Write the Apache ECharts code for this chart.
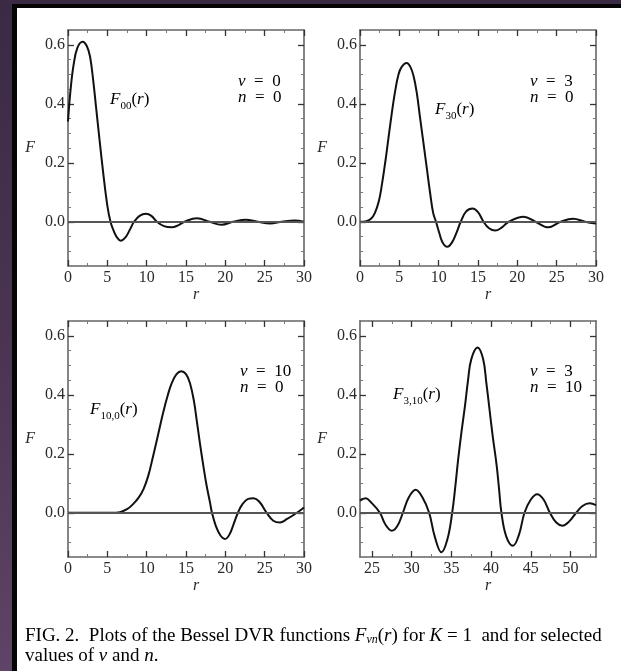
<!DOCTYPE html>
<html>
<head>
<meta charset="utf-8">
<script src="https://cdn.jsdelivr.net/npm/echarts@6/dist/echarts.min.js"></script>
<style>
html, body { margin: 0; padding: 0; background: #3a2a44; }
#page { position: relative; width: 621px; height: 671px; overflow: hidden; }
#leftband { position: absolute; left: 0; top: 0; width: 12px; height: 671px;
  background: linear-gradient(#3a2a44, #4a3452 50%, #5e4466); }
#border { position: absolute; left: 12px; top: 4px; width: 609px; height: 667px; background: #050505; }
#paper { position: absolute; left: 17px; top: 8px; width: 604px; height: 663px; background: #fff; }
#main { position: absolute; left: 0; top: 0; width: 621px; height: 671px; }
</style>
</head>
<body>
<div id="page">
  <div id="leftband"></div>
  <div id="border"></div>
  <div id="paper"></div>
  <div id="main"></div>
</div>
<script>
// F00(r)  nu=0 n=0
var r00 = [0, 0.3, 0.7, 1.2, 1.86, 2.4, 2.8, 3.2, 3.6, 4.0, 4.5, 5.0, 5.4, 5.8, 6.2, 6.7, 7.3, 7.9, 8.4, 9.1, 9.9, 10.6, 11.3, 12.2, 13.2, 14.0, 14.8, 16.4, 18.0, 19.5, 21.0, 22.6, 24.1, 25.7, 27.2, 28.8, 30];
var f00 = [0.34, 0.44, 0.53, 0.59, 0.61, 0.595, 0.56, 0.48, 0.38, 0.28, 0.16, 0.055, 0.0, -0.03, -0.052, -0.064, -0.053, -0.025, 0.0, 0.02, 0.027, 0.02, 0.0, -0.015, -0.019, -0.012, 0.0, 0.012, 0.0, -0.01, 0.0, 0.007, 0.0, -0.006, 0.0, 0.004, 0.0];

// F30(r)  nu=3 n=0
var r30 = [0, 0.8, 1.4, 1.9, 2.4, 2.75, 3.2, 3.6, 4.0, 4.45, 4.9, 5.3, 5.93, 6.4, 6.8, 7.2, 7.6, 8.0, 8.5, 8.9, 9.3, 9.66, 10.1, 10.5, 11.1, 11.7, 12.3, 12.8, 13.5, 14.3, 15.0, 15.7, 16.4, 17.2, 18.0, 18.9, 20.8, 22.3, 23.9, 25.5, 27.1, 28.6, 30];
var f30 = [0, 0.002, 0.01, 0.03, 0.07, 0.12, 0.2, 0.28, 0.36, 0.44, 0.5, 0.525, 0.538, 0.525, 0.495, 0.44, 0.36, 0.28, 0.18, 0.1, 0.03, 0.0, -0.04, -0.07, -0.085, -0.07, -0.035, 0.0, 0.035, 0.045, 0.033, 0.0, -0.022, -0.03, -0.02, 0.0, 0.017, 0.0, -0.019, 0.0, 0.01, 0.0, -0.006];

// F10,0(r)  nu=10 n=0
var r100 = [0, 5.5, 6.6, 7.5, 8.3, 9.0, 9.6, 10.2, 10.8, 11.5, 12.1, 12.7, 13.2, 13.8, 14.4, 15.0, 15.5, 16.0, 16.4, 16.8, 17.2, 17.6, 18.05, 18.3, 18.8, 19.4, 19.95, 20.5, 21.1, 21.6, 22.2, 22.9, 23.6, 24.3, 25.25, 26.1, 26.95, 27.8, 29.1, 30];
var f100 = [0, 0, 0.002, 0.012, 0.03, 0.052, 0.08, 0.125, 0.19, 0.27, 0.34, 0.4, 0.44, 0.47, 0.48, 0.47, 0.44, 0.38, 0.306, 0.23, 0.16, 0.095, 0.035, 0.0, -0.045, -0.078, -0.089, -0.075, -0.035, 0.0, 0.03, 0.047, 0.049, 0.038, 0.0, -0.027, -0.033, -0.022, 0.0, 0.018];

// F3,10(r)  nu=3 n=10
var r310 = [23.5, 24.2, 24.9, 26.0, 26.7, 27.5, 28.2, 28.9, 29.6, 30.5, 31.3, 32.2, 32.9, 33.75, 34.5, 35.1, 35.5, 35.85, 36.3, 36.7, 37.1, 37.5, 38.3, 39.0, 39.4, 39.8, 40.2, 40.7, 41.0, 41.3, 41.9, 42.75, 43.5, 44.2, 45.0, 45.8, 46.6, 47.4, 48.2, 49.0, 49.8, 50.7, 51.5, 52.4, 53.2];
var f310 = [0.041, 0.049, 0.035, 0.0, -0.04, -0.061, -0.045, 0.0, 0.05, 0.078, 0.055, 0.0, -0.08, -0.134, -0.09, 0.0, 0.09, 0.18, 0.28, 0.36, 0.45, 0.52, 0.56, 0.52, 0.44, 0.35, 0.26, 0.16, 0.08, 0.0, -0.08, -0.112, -0.075, 0.0, 0.045, 0.063, 0.045, 0.0, -0.033, -0.044, -0.03, 0.0, 0.023, 0.032, 0.026];

var xMajorA = [0, 5, 10, 15, 20, 25, 30];
var xMinorA = [2.5, 7.5, 12.5, 17.5, 22.5, 27.5];
var xMajorB = [25, 30, 35, 40, 45, 50];
var xMinorB = [27.5, 32.5, 37.5, 42.5, 47.5, 52.5];
var yMajor = [0, 0.2, 0.4, 0.6];
var yMinor = [-0.1, -0.05, 0.05, 0.1, 0.15, 0.25, 0.3, 0.35, 0.45, 0.5, 0.55];

var panels = [
    {r: r00, f: f00, xmin: 0, xmax: 30, xMaj: xMajorA, xMin: xMinorA, left: 68, top: 30},
    {r: r30, f: f30, xmin: 0, xmax: 30, xMaj: xMajorA, xMin: xMinorA, left: 360, top: 30},
    {r: r100, f: f100, xmin: 0, xmax: 30, xMaj: xMajorA, xMin: xMinorA, left: 68, top: 321},
    {r: r310, f: f310, xmin: 23.5, xmax: 53.2, xMaj: xMajorB, xMin: xMinorB, left: 360, top: 321}
];

var SERIF = '"Liberation Serif", "DejaVu Serif", serif';
var frameColor = '#666';
var tickColor = '#333';
var labelColor = '#2a2a2a';

var grids = [], xAxes = [], yAxes = [], series = [];

panels.forEach(function (p, i) {
    grids.push({left: p.left, top: p.top, width: 236, height: 236});

    // bottom/top x axes (major + minor)
    ['bottom', 'top'].forEach(function (pos) {
        xAxes.push({
            gridIndex: i, type: 'value', min: p.xmin, max: p.xmax, position: pos,
            name: pos === 'bottom' ? 'r' : '',
            nameLocation: 'middle', nameGap: 20,
            nameTextStyle: {fontFamily: SERIF, fontStyle: 'italic', fontSize: 16, color: labelColor, verticalAlign: 'top', padding: [0, 0, 0, 20]},
            axisLine: {show: true, onZero: false, lineStyle: {color: frameColor, width: 1.6}},
            axisTick: {show: true, inside: true, length: 6, customValues: p.xMaj, lineStyle: {color: tickColor, width: 1.3}},
            axisLabel: {show: pos === 'bottom', customValues: p.xMaj, margin: 4, fontFamily: SERIF, fontSize: 16, color: labelColor},
            splitLine: {show: false}
        });
        xAxes.push({
            gridIndex: i, type: 'value', min: p.xmin, max: p.xmax, position: pos,
            axisLine: {show: false, onZero: false},
            axisTick: {show: true, inside: true, length: 3, customValues: p.xMin, lineStyle: {color: '#777', width: 1}},
            axisLabel: {show: false}, splitLine: {show: false}
        });
    });

    // left/right y axes (major + minor)
    ['left', 'right'].forEach(function (pos) {
        yAxes.push({
            gridIndex: i, type: 'value', min: -0.15, max: 0.65, position: pos,
            name: pos === 'left' ? 'F' : '',
            nameLocation: 'middle', nameGap: 33, nameRotate: 0,
            nameTextStyle: {fontFamily: SERIF, fontStyle: 'italic', fontSize: 16, color: labelColor, padding: [0, 0, 24, 0]},
            axisLine: {show: true, onZero: false, lineStyle: {color: frameColor, width: 1.6}},
            axisTick: {show: true, inside: true, length: 6, customValues: yMajor, lineStyle: {color: tickColor, width: 1.3}},
            axisLabel: {show: pos === 'left', customValues: yMajor, margin: 3, fontFamily: SERIF, fontSize: 16, color: labelColor,
                formatter: function (v) { return v.toFixed(1); }},
            splitLine: {show: false}
        });
        yAxes.push({
            gridIndex: i, type: 'value', min: -0.15, max: 0.65, position: pos,
            axisLine: {show: false, onZero: false},
            axisTick: {show: true, inside: true, length: 3, customValues: yMinor, lineStyle: {color: '#777', width: 1}},
            axisLabel: {show: false}, splitLine: {show: false}
        });
    });

    series.push({
        type: 'line',
        xAxisIndex: i * 4, yAxisIndex: i * 4,
        data: p.r.map(function (r, k) { return [r, p.f[k]]; }),
        showSymbol: false, smooth: 0.4,
        lineStyle: {color: '#111', width: 2},
        markLine: {
            silent: true, symbol: 'none', animation: false,
            label: {show: false},
            lineStyle: {color: '#555', width: 2, type: 'solid'},
            data: [{yAxis: 0}]
        },
        z: 3
    });
});

var rich = {
    i: {fontFamily: SERIF, fontStyle: 'italic', fontSize: 17, color: labelColor},
    n: {fontFamily: SERIF, fontSize: 17, color: labelColor},
    s: {fontFamily: SERIF, fontSize: 11, color: labelColor, verticalAlign: 'bottom', padding: [0, 0, -3, 0]}
};
var capRich = {
    n: {fontFamily: SERIF, fontSize: 19, color: '#000', lineHeight: 20},
    i: {fontFamily: SERIF, fontStyle: 'italic', fontSize: 19, color: '#000', lineHeight: 20},
    s: {fontFamily: SERIF, fontStyle: 'italic', fontSize: 12, color: '#000', verticalAlign: 'bottom', lineHeight: 14}
};

function txt(x, y, text, r, align) {
    return {type: 'text', x: x, y: y, z: 10,
        style: {text: text, rich: r || rich, align: align || 'left', verticalAlign: 'middle'}};
}

var chart = echarts.init(document.getElementById('main'));
chart.setOption({
    backgroundColor: 'transparent',
    animation: false,
    grid: grids,
    xAxis: xAxes,
    yAxis: yAxes,
    series: series,
    graphic: [
        txt(110, 100, '{i|F}{s|00}{n|(}{i|r}{n|)}'),
        txt(238, 82, '{i|ν}{n|  =  0}'),
        txt(238, 98, '{i|n}{n|  =  0}'),
        txt(435, 110, '{i|F}{s|30}{n|(}{i|r}{n|)}'),
        txt(530, 82, '{i|ν}{n|  =  3}'),
        txt(530, 98, '{i|n}{n|  =  0}'),
        txt(90, 410, '{i|F}{s|10,0}{n|(}{i|r}{n|)}'),
        txt(240, 372, '{i|ν}{n|  =  10}'),
        txt(240, 388, '{i|n}{n|  =  0}'),
        txt(393, 395, '{i|F}{s|3,10}{n|(}{i|r}{n|)}'),
        txt(530, 372, '{i|ν}{n|  =  3}'),
        txt(530, 388, '{i|n}{n|  =  10}'),
        {type: 'text', x: 25, y: 626, z: 10, style: {
            text: '{n|FIG. 2.  Plots of the Bessel DVR functions }{i|F}{s|νn}{n|(}{i|r}{n|) for }{i|K}{n| = 1  and for selected}\n{n|values of }{i|ν}{n| and }{i|n}{n|.}',
            rich: capRich
        }}
    ]
});
</script>
</body>
</html>
